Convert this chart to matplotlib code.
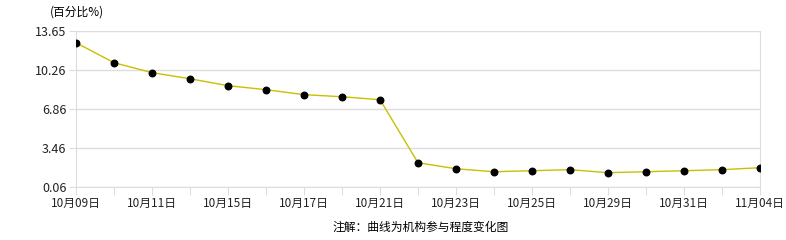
import matplotlib.pyplot as plt

plt.rcParams['font.family'] = ['Noto Sans CJK SC', 'DejaVu Sans']

dates = ['10月09日', '10月10日', '10月11日', '10月14日', '10月15日', '10月16日',
         '10月17日', '10月18日', '10月21日', '10月22日', '10月23日', '10月24日',
         '10月25日', '10月28日', '10月29日', '10月30日', '10月31日', '11月01日',
         '11月04日']
values = [12.61, 10.87, 10.01, 9.48, 8.88, 8.53, 8.10, 7.92, 7.66, 2.19,
          1.67, 1.41, 1.50, 1.59, 1.33, 1.41, 1.50, 1.59, 1.76]
yticks = [0.06, 3.46, 6.86, 10.26, 13.65]

fig = plt.figure(figsize=(7.86, 2.4), dpi=100)
ax = fig.add_axes([76 / 786, 1 - 187.3 / 240, 684 / 786, 156.6 / 240])

x = list(range(len(dates)))
ax.plot(x, values, color='#c8c000', linewidth=1, zorder=3)
ax.scatter(x, values, s=22, color='black', zorder=4)

ax.set_xlim(0, len(dates) - 1)
ax.set_ylim(yticks[0], yticks[-1])
ax.set_yticks(yticks)
ax.set_yticklabels(['%.2f' % v for v in yticks], fontsize=9, color='#222222')
ax.set_xticks(x)
ax.set_xticklabels([d if i % 2 == 0 else '' for i, d in enumerate(dates)],
                   fontsize=8.5, color='#222222')
ax.tick_params(axis='x', length=6, color='#dddddd', pad=1)
ax.tick_params(axis='y', length=5, color='#dddddd', pad=2)

ax.grid(axis='y', color='#dddddd', linewidth=1)
ax.set_axisbelow(True)
for s in ['left', 'bottom', 'right']:
    ax.spines[s].set_color('#dddddd')
ax.spines['top'].set_visible(False)

fig.text(50 / 786, 1 - 12 / 240, '(百分比%)', fontsize=8.5, va='center', ha='left')
fig.text(421 / 786, 1 - 227 / 240, '注解：曲线为机构参与程度变化图', fontsize=8.5,
         va='center', ha='center')

fig.savefig('out.png', dpi=100)
